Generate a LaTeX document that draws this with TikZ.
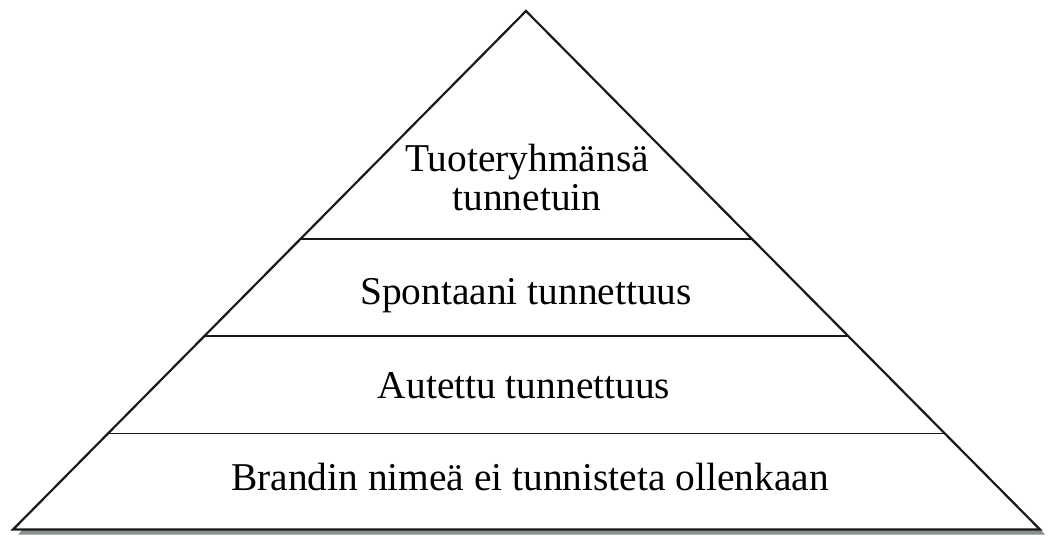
\documentclass[tikz,border=0pt]{standalone}
\usepackage{fontspec}
\setmainfont{Liberation Serif}
\usepackage{xcolor}
\usetikzlibrary{calc}
\definecolor{shadowgray}{RGB}{135,145,145}
\definecolor{inkline}{RGB}{25,25,25}

\begin{document}
\begin{tikzpicture}[x=0.5pt,y=-0.5pt,every node/.style={font=\fontsize{19.7}{20}\selectfont,anchor=base,inner sep=0pt}]
\def\sx{5}
\def\sy{5}
\useasboundingbox (0,0) rectangle (1056,538);
\coordinate (A) at (526,11);
\coordinate (L) at (13,529.5);
\coordinate (R) at (1040,529.5);
\fill[shadowgray] ($(A)+(\sx,\sy)$) -- ($(L)+(\sx,\sy)$) -- ($(R)+(\sx,\sy)$) -- cycle;
\fill[white] (A) -- (L) -- (R) -- cycle;

\foreach \t in {0.56,0.3726,0.1853}{
	\draw[inkline,line width=0.9pt] ($(L)!\t!(A)$) -- ($(R)!\t!(A)$);
}
\draw[inkline,line width=1.1pt] (A) -- (L) -- (R) -- cycle;

\node (top) at (527,171) {Tuoteryhmänsä};
\node (topb) at (527,210) {tunnetuin};
\node (spont) at (526,304) {Spontaani tunnettuus};
\node (autettu) at (524,398) {Autettu tunnettuus};
\node (brandi) at (530,490) {Brandin nimeä ei tunnisteta ollenkaan};


\end{tikzpicture}
\end{document}
